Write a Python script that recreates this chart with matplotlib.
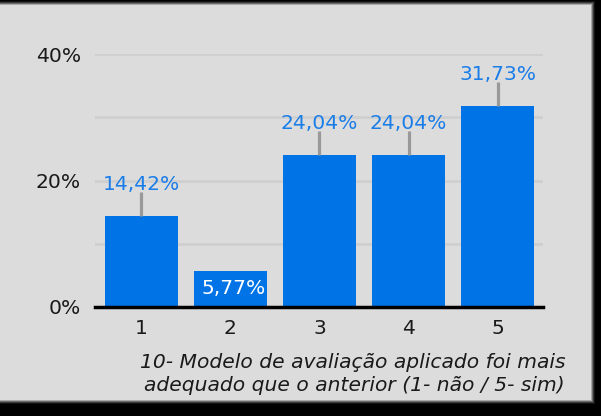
import matplotlib
matplotlib.use("Agg")
import matplotlib.pyplot as plt
import matplotlib.patches as patches

categories = ["1", "2", "3", "4", "5"]
values = [14.42, 5.77, 24.04, 24.04, 31.73]
labels = ["14,42%", "5,77%", "24,04%", "24,04%", "31,73%"]
ytick_values = [0, 20, 40]
ytick_labels = ["0%", "20%", "40%"]
title = "10- Modelo de avaliação aplicado foi mais\nadequado que o anterior (1- não / 5- sim)"

W, H = 601, 416
fig = plt.figure(figsize=(W / 100, H / 100), dpi=100)
fig.patch.set_facecolor("black")

# gray panel with a soft dark edge (shadow-like frame)
for i, shade in enumerate(["#141414", "#383838", "#6c6c6c", "#a8a8a8"]):
    d = 4 - i
    fig.patches.append(patches.Rectangle((0, (H - 400 - d) / H), (591 + d) / W, (395 + 2 * d) / H,
                                         transform=fig.transFigure, facecolor=shade,
                                         edgecolor="none", zorder=-3 + i * 0.1))
fig.patches.append(patches.Rectangle((0, (H - 400) / H), 591 / W, 395 / H,
                                     transform=fig.transFigure, facecolor="#dcdcdc",
                                     edgecolor="none", zorder=-2))

ax = fig.add_axes([95 / W, (H - 307) / H, (543 - 95) / W, (307 - 54) / H])
ax.set_facecolor("none")

x = list(range(1, len(categories) + 1))
bar_color = "#0073e6"
ax.bar(x, values, width=0.82, color=bar_color, zorder=2)

fs = 14.6
lead = 3.8
for xi, v, lab in zip(x, values, labels):
    if v < 10:
        ax.text(xi + 0.04, 2.0, lab, color="white", fontsize=fs, ha="center",
                va="baseline", zorder=4)
    else:
        ax.plot([xi, xi], [v, v + lead], color="#999999", lw=2.3, zorder=3,
                solid_capstyle="butt", clip_on=False)
        ax.text(xi, v + lead + 0.35, lab, color="#1a7de8", fontsize=fs, ha="center",
                va="baseline", zorder=4, clip_on=False)

ax.set_xlim(0.48, 5.51)
ax.set_ylim(0, 40)
for g in [10, 20, 30, 40]:
    ax.axhline(g, color="#cfcfcf", lw=2, zorder=1)

ax.set_xticks(x)
ax.set_xticklabels(categories, fontsize=fs, color="#1a1a1a")
ax.set_yticks(ytick_values)
ax.set_yticklabels(ytick_labels, fontsize=fs, color="#1a1a1a")
ax.tick_params(axis="both", length=0)
ax.tick_params(axis="x", pad=9)
ax.tick_params(axis="y", pad=10)

for s in ["top", "right", "left"]:
    ax.spines[s].set_visible(False)
ax.spines["bottom"].set_linewidth(2.5)
ax.spines["bottom"].set_color("black")
ax.spines["bottom"].set_zorder(5)

fig.text(565 / W, (H - 374) / H, title, fontsize=fs, style="italic", color="#1a1a1a",
         ha="right", va="center", multialignment="right", linespacing=1.22)

fig.savefig("out.png", dpi=100, facecolor=fig.get_facecolor())
